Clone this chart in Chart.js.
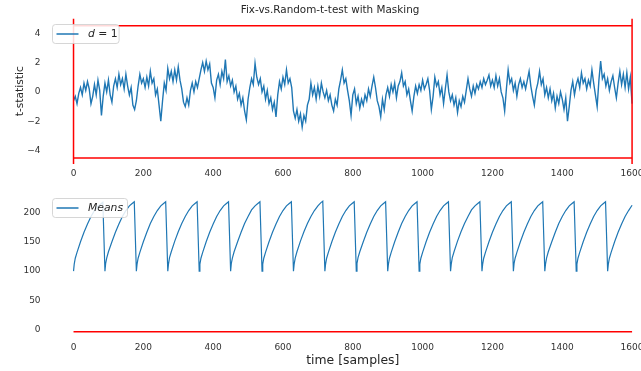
<!DOCTYPE html>
<html>
<head>
<meta charset="utf-8">
<title>Fix-vs.Random-t-test with Masking</title>
<script src="https://cdn.jsdelivr.net/npm/chart.js"></script>
<style>
html, body { margin: 0; padding: 0; background: #fff; width: 641px; height: 371px; overflow: hidden; }
.panel { position: absolute; left: 0; }
.panel canvas { display: block; }
#topPanel { top: 0; }
#bottomPanel { top: 180px; }
</style>
</head>
<body>
<div class="panel" id="topPanel"><canvas id="tChart" width="700" height="180"></canvas></div>
<div class="panel" id="bottomPanel"><canvas id="meansChart" width="700" height="191"></canvas></div>
<script>
// t-statistic, one value every 5 samples (0 .. 1600)
var tStep = 5;
var tValues = [
    -0.6, -0.3, -0.8, -0.1, 0.3, -0.2, 0.6, 0.1, 0.7, 0.2, -0.8, -0.3, 0.5, -0.2, 0.8, 0.1, -1.6, -0.3, 0.6, 0.0,
    0.8, -0.2, -0.7, 0.4, 0.9, 0.3, 1.2, 0.5, 0.9, 0.2, 1.2, 0.4, -0.2, 0.3, -0.9, -1.2, -0.6, 0.4, 1.2, 0.6,
    0.9, 0.3, 1.0, 0.4, 1.4, 0.6, 0.9, -0.2, 0.2, -0.9, -2.0, -0.6, 0.6, 0.1, 1.6, 0.9, 1.4, 0.7, 1.5, 0.8,
    1.7, 0.8, 0.2, -0.7, -1.0, -0.4, -0.9, 0.1, 0.6, 0.0, 0.7, 0.3, 0.9, 1.5, 2.0, 1.4, 2.1, 1.5, 1.9, 0.6,
    0.3, -0.4, 0.8, 1.2, 0.5, 1.4, 0.9, 2.2, 0.7, 1.1, 0.4, 0.8, 0.0, 0.4, -0.5, -0.1, -0.9, -0.4, -1.3, -1.9,
    -0.5, 0.3, 0.9, 0.5, 1.95, 1.0, 0.5, 0.9, 0.0, 0.4, -0.5, 0.1, -0.8, -0.4, -1.2, -0.7, -1.7, -0.2, 0.7, 0.2,
    1.0, 0.5, 1.5, 0.6, 0.9, 0.3, -1.3, -1.8, -1.2, -2.0, -1.5, -2.4, -1.6, -2.0, -0.9, -0.5, 0.6, -0.2, 0.3, -0.5,
    0.4, -0.3, 0.6, 0.0, -0.4, 0.1, -0.6, -0.2, -0.9, -1.3, -0.5, -0.9, 0.2, 0.8, 1.5, 0.6, 0.9, 0.1, -0.6, -1.6,
    -0.2, 0.2, -0.8, -0.3, -1.1, -0.5, -0.9, -0.2, -0.6, 0.2, -0.3, 0.4, 1.0, 0.3, -0.6, -1.0, -1.7, -0.5, -1.2, -0.2,
    0.3, -0.3, 0.5, 0.0, 0.6, -0.4, 0.4, 0.7, 1.3, 0.4, 0.7, -0.2, 0.2, -0.6, -1.3, -0.3, 0.4, -0.1, 0.5, 0.1,
    0.8, 0.2, 0.5, 0.9, 0.1, -1.2, -0.3, 1.0, 0.4, 0.7, -0.2, 0.3, -0.8, 0.2, 1.15, 0.0, -0.6, -0.2, -0.9, -0.4,
    -1.4, -0.6, -1.0, -0.3, -0.7, 0.1, 0.9, 0.2, -0.3, 0.4, -0.1, 0.5, 0.2, 0.7, 0.3, 0.9, 0.5, 0.8, 1.15, 0.4,
    0.8, 0.3, 1.1, 0.4, 0.9, 0.0, -0.4, -1.3, 0.2, 1.5, 0.6, 0.9, 0.1, 0.6, -0.3, 0.5, 0.9, 0.3, 0.7, 0.2,
    0.8, 1.4, 0.4, -0.3, -0.9, 0.1, 0.6, 1.4, 0.5, 0.9, -0.2, 0.3, -0.4, 0.2, -0.6, -0.1, -1.1, -0.3, -0.8, 0.0,
    -0.5, -1.2, -0.4, -2.0, -1.0, 0.1, 0.7, -0.2, 0.5, 0.9, 0.3, 1.3, 0.6, 0.9, 0.2, 0.8, 0.4, 1.5, 0.6, -0.2,
    -1.0, 0.8, 2.1, 0.9, 1.2, 0.4, 0.9, 0.1, 0.7, 1.1, 0.3, -0.4, 0.6, 1.4, 0.5, 1.2, 0.3, 1.3, 0.2, 1.0,
    -0.8
];
var tThreshold = 4.5;

// running means, one row per 90-sample block
var meansStarts = [0, 90, 180, 270, 360, 450, 540, 630, 720, 810, 900, 990, 1080, 1170, 1260, 1350, 1440, 1530];
var meansOffsets = [0, 2, 5, 10, 20, 30, 40, 50, 60, 70, 78, 84];
var meansValues = [
    [100, 112, 122, 132, 150, 166, 180, 193, 203, 210, 214, 217],
    [100, 113, 122, 133, 150, 166, 180, 193, 203, 211, 215, 218],
    [100, 112, 122, 132, 150, 166, 181, 193, 203, 211, 215, 218],
    [100, 112, 123, 133, 151, 167, 181, 193, 203, 211, 215, 218],
    [100, 112, 122, 132, 150, 166, 180, 193, 203, 211, 215, 218],
    [100, 113, 122, 133, 150, 166, 181, 193, 204, 211, 215, 218],
    [100, 112, 122, 132, 150, 166, 180, 193, 203, 211, 215, 218],
    [100, 112, 122, 133, 151, 167, 181, 193, 203, 211, 216, 219],
    [100, 112, 122, 132, 150, 166, 180, 193, 203, 211, 215, 218],
    [100, 113, 123, 133, 150, 166, 180, 193, 203, 211, 215, 218],
    [100, 112, 122, 132, 150, 166, 181, 193, 203, 211, 215, 218],
    [100, 112, 122, 132, 150, 166, 180, 193, 203, 211, 215, 218],
    [100, 112, 123, 133, 151, 167, 181, 193, 204, 211, 215, 218],
    [100, 112, 122, 132, 150, 166, 180, 193, 203, 211, 215, 218],
    [100, 113, 122, 132, 150, 166, 180, 193, 203, 211, 215, 218],
    [100, 112, 122, 133, 150, 166, 181, 193, 203, 211, 215, 218],
    [100, 112, 122, 132, 150, 166, 180, 193, 203, 211, 215, 218],
    [100, 112, 122, 132, 150, 166, 180, 193, 203, 212]
];
var meansFloor = -3;

var xTicks = [0, 200, 400, 600, 800, 1000, 1200, 1400, 1600];
var tTicks = [-4, -2, 0, 2, 4];
var meansTicks = [0, 50, 100, 150, 200];

var blue = '#1f77b4';
var inkColor = '#262626';

Chart.defaults.font.family = 'DejaVu Sans';
Chart.defaults.color = '#333';

var Helper = {
    TickSetter: function (list) {
        return function (scale) {
            scale.ticks = list.map(function (v) { return { value: v }; });
        };
    },

    MinusLabel: function (value) {
        return value < 0 ? '\u2212' + Math.abs(value) : String(value);
    },

    RedLine: function (points) {
        return { data: points, borderColor: '#ff0000', borderWidth: 1.5, pointRadius: 0, order: 1 };
    },

    BaseScales: function (yMin, yMax, yTicks) {
        return {
            x: {
                type: 'linear', min: -80, max: 1680,
                grid: { display: false, drawTicks: false },
                border: { display: false },
                ticks: { padding: 4, font: { size: 9 }, color: '#333', callback: Helper.MinusLabel },
                afterBuildTicks: Helper.TickSetter(xTicks)
            },
            y: {
                min: yMin, max: yMax,
                grid: { display: false, drawTicks: false },
                border: { display: false },
                ticks: { padding: 5, font: { size: 9 }, color: '#333', callback: Helper.MinusLabel },
                afterBuildTicks: Helper.TickSetter(yTicks),
                afterFit: function (s) { s.width = 45.6; }
            }
        };
    }
};

// matplotlib style legend in the upper left corner of the plot area
var CornerLegend = {
    id: 'cornerLegend',
    afterDatasetsDraw: function (chart, args, opts) {
        var ctx = chart.ctx;
        var area = chart.chartArea;
        var x = Math.round(area.left + 6) + 0.5;
        var y = Math.round(area.top + opts.dy) + 0.5;
        var w = opts.width, h = 19, r = 3;

        ctx.save();
        ctx.beginPath();
        ctx.moveTo(x + r, y);
        ctx.lineTo(x + w - r, y);
        ctx.arcTo(x + w, y, x + w, y + r, r);
        ctx.lineTo(x + w, y + h - r);
        ctx.arcTo(x + w, y + h, x + w - r, y + h, r);
        ctx.lineTo(x + r, y + h);
        ctx.arcTo(x, y + h, x, y + h - r, r);
        ctx.lineTo(x, y + r);
        ctx.arcTo(x, y, x + r, y, r);
        ctx.closePath();
        ctx.fillStyle = 'rgba(255,255,255,0.85)';
        ctx.fill();
        ctx.strokeStyle = 'rgba(204,204,204,0.8)';
        ctx.lineWidth = 1;
        ctx.stroke();

        var cy = y + h / 2;
        ctx.beginPath();
        ctx.moveTo(x + 4, cy);
        ctx.lineTo(x + 26, cy);
        ctx.strokeStyle = chart.data.datasets[0].borderColor;
        ctx.lineWidth = 1.5;
        ctx.stroke();

        var tx = x + 35.5;
        ctx.fillStyle = inkColor;
        ctx.textBaseline = 'middle';
        opts.parts.forEach(function (p) {
            ctx.font = (p.italic ? 'italic ' : '') + '10.8px "DejaVu Sans"';
            ctx.fillText(p.text, tx, cy);
            tx += ctx.measureText(p.text).width;
        });
        ctx.restore();
    }
};

// top panel
var tPoints = tValues.map(function (v, i) { return { x: i * tStep, y: v }; });
var tMin = -4.91, tMax = 5.0;
var tScales = Helper.BaseScales(tMin, tMax, tTicks);
tScales.x.afterFit = function (s) { s.height = 16; };
tScales.y.title = {
    display: true, text: 't-statistic', color: inkColor,
    font: { size: 10.7 }, padding: { top: 13.6, bottom: 0 }
};

new Chart(document.getElementById('tChart'), {
    type: 'line',
    data: {
        datasets: [
            { label: 'd = 1', data: tPoints, borderColor: blue, borderWidth: 1.4, pointRadius: 0, order: 2 },
            Helper.RedLine([{ x: 0, y: tThreshold }, { x: 1600, y: tThreshold }]),
            Helper.RedLine([{ x: 0, y: -tThreshold }, { x: 1600, y: -tThreshold }]),
            Helper.RedLine([{ x: 0, y: tMin }, { x: 0, y: tMax }]),
            Helper.RedLine([{ x: 1600, y: tMin }, { x: 1600, y: tMax }])
        ]
    },
    options: {
        responsive: false,
        animation: false,
        events: [],
        layout: { padding: { left: 0, right: 40, top: 0, bottom: 0 } },
        plugins: {
            legend: { display: false },
            tooltip: { enabled: false },
            title: {
                display: true, text: 'Fix-vs.Random-t-test with Masking', color: inkColor,
                font: { size: 10.4, weight: 'normal' }, padding: { top: 3.8, bottom: 2.2 }
            },
            cornerLegend: { dy: 5.5, width: 66.6, parts: [{ text: 'd', italic: true }, { text: ' = 1' }] }
        },
        scales: tScales
    },
    plugins: [CornerLegend]
});

// bottom panel
var meansPoints = [];
meansStarts.forEach(function (start, k) {
    meansValues[k].forEach(function (v, j) {
        meansPoints.push({ x: start + meansOffsets[j], y: v });
    });
});
var mScales = Helper.BaseScales(-14.8, 229.6, meansTicks);
mScales.x.afterFit = function (s) { s.height = 32.3; };
mScales.x.title = {
    display: true, text: 'time [samples]', color: inkColor,
    font: { size: 12.4 }, padding: { top: 0, bottom: 2.6 }
};

new Chart(document.getElementById('meansChart'), {
    type: 'line',
    data: {
        datasets: [
            { label: 'Means', data: meansPoints, borderColor: blue, borderWidth: 1.2, pointRadius: 0, order: 2 },
            Helper.RedLine([{ x: 0, y: meansFloor }, { x: 1600, y: meansFloor }])
        ]
    },
    options: {
        responsive: false,
        animation: false,
        events: [],
        layout: { padding: { left: 0, right: 40, top: 14.9, bottom: 0 } },
        plugins: {
            legend: { display: false },
            tooltip: { enabled: false },
            cornerLegend: { dy: 3.4, width: 75, parts: [{ text: 'Means', italic: true }] }
        },
        scales: mScales
    },
    plugins: [CornerLegend]
});
</script>
</body>
</html>
